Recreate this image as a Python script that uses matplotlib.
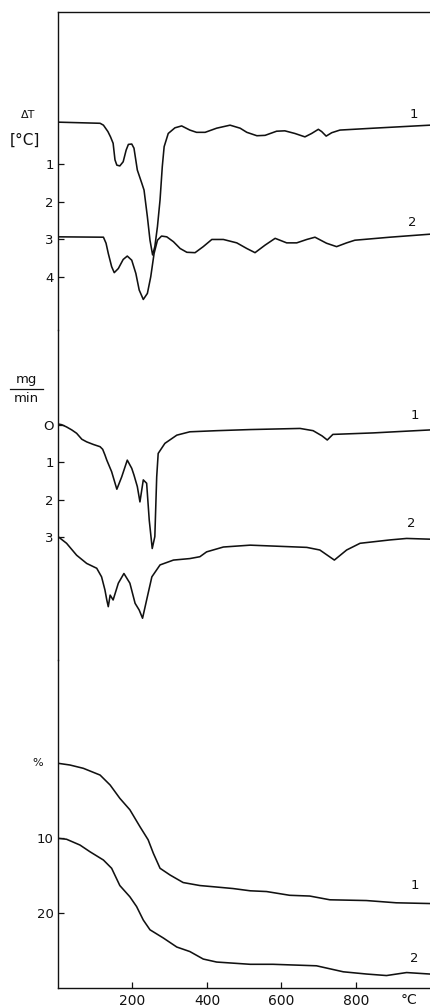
import matplotlib
matplotlib.use("Agg")
import matplotlib.pyplot as plt
from matplotlib.lines import Line2D

plt.rcParams['font.family'] = ['DejaVu Sans']

# ---------------- data (temperature in °C) ----------------
# DTA, curve 1 (ΔT, °C; downward = endothermic)
dta1_t = [0, 113, 122, 134, 141, 148, 153, 158, 166, 175, 183, 189, 198, 204, 213, 225, 231,
          240, 247, 254, 260, 267, 274, 280, 285, 296, 314, 332, 354, 372, 395, 426, 462, 489,
          507, 534, 556, 587, 609, 636, 663, 681, 699, 708, 720, 735, 757, 847, 999]
dta1_v = [-0.11, -0.08, -0.03, 0.14, 0.28, 0.45, 0.89, 1.03, 1.05, 0.94, 0.63, 0.48, 0.47, 0.58,
          1.16, 1.51, 1.69, 2.40, 3.02, 3.41, 3.19, 2.66, 1.95, 1.07, 0.54, 0.19, 0.04, -0.01,
          0.10, 0.16, 0.16, 0.05, -0.03, 0.05, 0.16, 0.25, 0.24, 0.13, 0.12, 0.19, 0.28, 0.19,
          0.08, 0.14, 0.26, 0.17, 0.10, 0.05, -0.03]
# DTA, curve 2
dta2_t = [0, 122, 129, 135, 144, 151, 162, 175, 186, 198, 209, 218, 229, 240, 249, 258, 267,
          278, 292, 310, 328, 346, 368, 390, 413, 444, 480, 507, 529, 556, 583, 614, 641, 668,
          690, 721, 748, 775, 797, 891, 999]
dta2_v = [2.93, 2.94, 3.10, 3.37, 3.72, 3.88, 3.77, 3.53, 3.44, 3.55, 3.90, 4.34, 4.59, 4.43,
          3.99, 3.37, 3.02, 2.91, 2.93, 3.06, 3.24, 3.34, 3.35, 3.19, 3.00, 3.00, 3.09, 3.24,
          3.35, 3.15, 2.97, 3.09, 3.09, 3.00, 2.94, 3.10, 3.19, 3.09, 3.02, 2.94, 2.86]

# DTG, curve 1 (mg/min)
dtg1_t = [0, 10, 23, 37, 50, 64, 77, 95, 113, 120, 126, 131, 144, 158, 171, 186, 198, 204, 213,
          220, 229, 238, 245, 253, 260, 265, 269, 287, 319, 354, 426, 516, 650, 685, 709, 723,
          738, 846, 999]
dtg1_v = [-0.03, -0.01, 0.05, 0.13, 0.22, 0.38, 0.45, 0.52, 0.58, 0.65, 0.80, 0.94, 1.25, 1.72,
          1.39, 0.94, 1.16, 1.34, 1.65, 2.06, 1.47, 1.56, 2.55, 3.31, 2.99, 1.39, 0.76, 0.49,
          0.27, 0.18, 0.15, 0.12, 0.09, 0.15, 0.29, 0.40, 0.25, 0.21, 0.13]
# DTG, curve 2
dtg2_t = [0, 23, 50, 77, 104, 117, 126, 131, 135, 140, 148, 162, 177, 193, 207, 218, 227, 240,
          252, 274, 310, 354, 381, 399, 444, 516, 668, 703, 742, 775, 811, 891, 936, 999]
dtg2_v = [2.99, 3.17, 3.49, 3.71, 3.84, 4.07, 4.42, 4.69, 4.87, 4.56, 4.69, 4.24, 3.98, 4.24,
          4.78, 4.96, 5.18, 4.60, 4.07, 3.75, 3.62, 3.58, 3.53, 3.40, 3.27, 3.22, 3.28, 3.35,
          3.62, 3.35, 3.17, 3.08, 3.04, 3.06]

# TG, curve 1 (mass loss, %)
tg1_t = [0, 32, 68, 113, 140, 166, 193, 220, 242, 256, 274, 301, 336, 381, 426, 470, 516,
         560, 622, 676, 730, 828, 908, 999]
tg1_v = [0.0, 0.23, 0.67, 1.57, 2.9, 4.67, 6.2, 8.45, 10.2, 12.0, 14.0, 14.9, 15.9, 16.3,
         16.5, 16.7, 17.0, 17.1, 17.6, 17.7, 18.2, 18.3, 18.6, 18.7]
# TG, curve 2
tg2_t = [0, 23, 59, 86, 122, 144, 166, 193, 211, 229, 247, 283, 319, 354, 390, 426, 516, 577,
         694, 766, 829, 882, 936, 999]
tg2_v = [10.0, 10.13, 10.9, 11.8, 12.9, 14.0, 16.3, 17.8, 19.1, 20.9, 22.2, 23.3, 24.5, 25.1,
         26.1, 26.5, 26.8, 26.8, 27.0, 27.8, 28.1, 28.3, 27.9, 28.1]

x_ticks = [200, 400, 600, 800]
dta_ticks = [1, 2, 3, 4]
dtg_ticks = [0, 1, 2, 3]
dtg_ticklabels = ['O', '1', '2', '3']
tg_ticks = [10, 20]

# ---------------- layout ----------------
W, H = 431, 1006
fig = plt.figure(figsize=(W / 100, H / 100), dpi=100)

def fx(px):
    return px / W

def fy(py):
    return 1 - py / H

left = 58
def add_axes(top, bottom):
    return fig.add_axes([fx(left), fy(bottom), fx(W - left), (bottom - top) / H])

ax1 = add_axes(12, 330)
ax2 = add_axes(330, 660)
ax3 = add_axes(660, 988)

lw = 1.15
col = '#111111'
fs = 9.5

for ax in (ax1, ax2, ax3):
    ax.set_xlim(0, 1001.5)
    for s in ax.spines.values():
        s.set_visible(False)
        s.set_linewidth(1.0)
        s.set_color(col)
    ax.spines['left'].set_visible(True)
    ax.tick_params(axis='both', direction='in', length=4, width=0.9, colors=col,
                   labelsize=fs, pad=3)
    ax.set_facecolor('none')

ax1.spines['top'].set_visible(True)
ax3.spines['bottom'].set_visible(True)

# DTA
ax1.plot(dta1_t, dta1_v, color=col, lw=lw)
ax1.plot(dta2_t, dta2_v, color=col, lw=lw)
ax1.set_ylim(5.40, -3.03)
ax1.set_yticks(dta_ticks)
ax1.set_xticks([])
ax1.text(955, -0.32, '1', fontsize=fs, ha='center', va='center', color=col)
ax1.text(950, 2.55, '2', fontsize=fs, ha='center', va='center', color=col)

# DTG
ax2.plot(dtg1_t, dtg1_v, color=col, lw=lw)
ax2.plot(dtg2_t, dtg2_v, color=col, lw=lw)
ax2.set_ylim(6.30, -2.55)
ax2.set_yticks(dtg_ticks)
ax2.set_yticklabels(dtg_ticklabels)
ax2.set_xticks([])
ax2.text(957, -0.27, '1', fontsize=fs, ha='center', va='center', color=col)
ax2.text(948, 2.64, '2', fontsize=fs, ha='center', va='center', color=col)

# TG
ax3.plot(tg1_t, tg1_v, color=col, lw=lw)
ax3.plot(tg2_t, tg2_v, color=col, lw=lw)
ax3.set_ylim(29.96, -13.77)
ax3.set_yticks(tg_ticks)
ax3.set_xticks(x_ticks)
ax3.set_xticklabels([str(v) for v in x_ticks])
ax3.tick_params(axis='x', pad=4, labelsize=10)
ax3.text(957, 16.3, '1', fontsize=fs, ha='center', va='center', color=col)
ax3.text(957, 26.0, '2', fontsize=fs, ha='center', va='center', color=col)

# unit labels
fig.text(fx(28), fy(115), 'ΔT', fontsize=8, ha='center', va='center', color=col)
fig.text(fx(25), fy(140), '[°C]', fontsize=11, ha='center', va='center', color=col)
fig.text(fx(26), fy(380), 'mg', fontsize=fs, ha='center', va='center', color=col)
fig.add_artist(Line2D([fx(10), fx(43)], [fy(389), fy(389)], color=col, lw=0.9))
fig.text(fx(26), fy(398), 'min', fontsize=fs, ha='center', va='center', color=col)
fig.text(fx(38), fy(763), '%', fontsize=8, ha='center', va='center', color=col)
fig.text(fx(409), fy(1000), '°C', fontsize=10, ha='center', va='center', color=col)

fig.savefig('out.png', dpi=100)
